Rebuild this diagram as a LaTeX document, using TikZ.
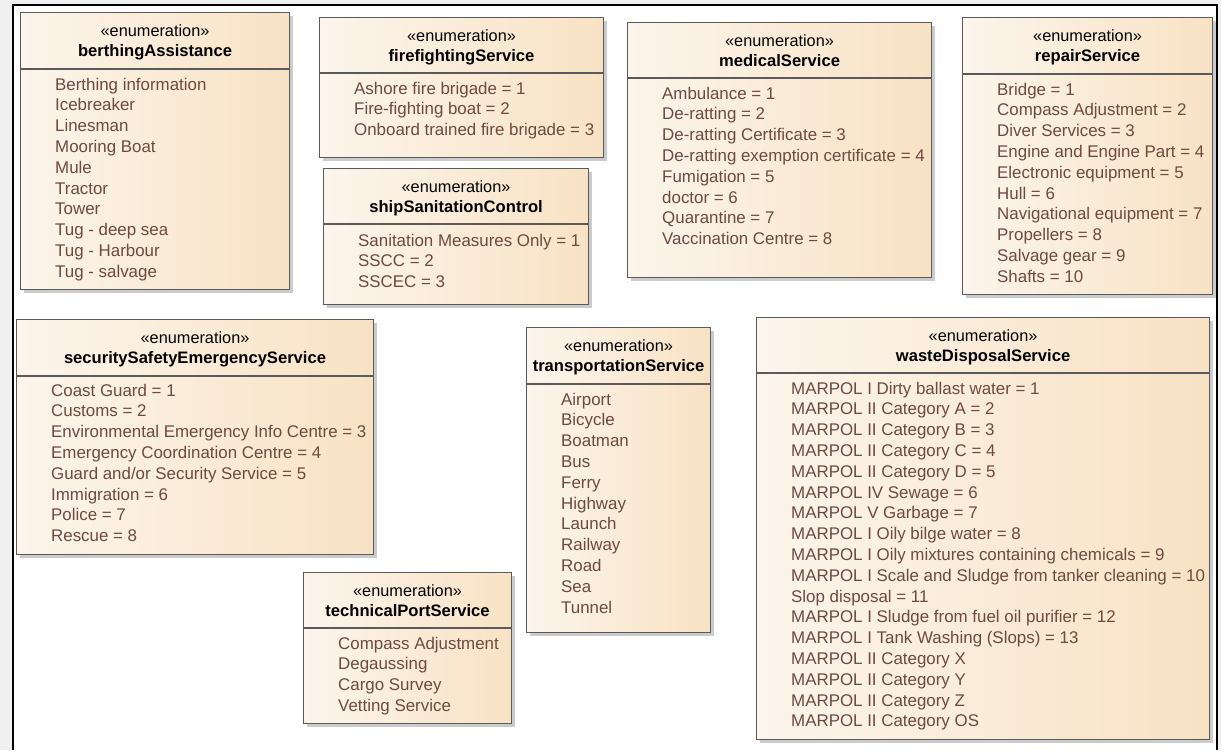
\documentclass[tikz,border=0pt]{standalone}
\usepackage{fontspec}
\setmainfont{Liberation Sans}
\usepackage{xcolor}
\usepackage{tikz}
\usetikzlibrary{positioning,shadows}

\definecolor{enumL}{HTML}{FCF5EC}
\definecolor{enumR}{HTML}{F8E2C4}
\definecolor{boxline}{HTML}{5A5A5A}
\definecolor{littext}{HTML}{6E4A40}
\definecolor{pagebg}{HTML}{F0F0F0}

\begin{document}
\begin{tikzpicture}[x=1pt,y=1pt]
        \def\hori{35}
        \def\rowh{20.8}
        \tikzstyle{enum}=[draw=boxline, line width=1.1pt, left color=enumL, right color=enumR, anchor=north west, inner sep=0pt,
            drop shadow={shadow xshift=3pt, shadow yshift=-3pt, fill=black!40, opacity=0.5}]
        \tikzstyle{stereo}=[font=\fontsize{16.3}{19}\selectfont, inner sep=0pt, anchor=base]
        \tikzstyle{title}=[font=\fontsize{16.6}{19}\selectfont\bfseries, inner sep=0pt, anchor=base]
        \tikzstyle{lit}=[font=\fontsize{16.9}{19}\selectfont, text=littext, inner sep=0pt, anchor=base west]
        \tikzstyle{divider}=[draw=boxline, line width=1.1pt]

        % Page
        \useasboundingbox (0,0) rectangle (1221,-750);
        \fill[pagebg] (0,0) rectangle (1221,-750);
        \fill[white] (13,-5) rectangle (1217,-750);
        \draw[line width=2pt] (13,-750) -- (13,-5) -- (1217,-5) -- (1217,-750);

        % berthingAssistance
        \node[enum, minimum width=269, minimum height=277] (berth) at (20,-12) {};
        \node[stereo] (berth-s) at ([yshift=-24]berth.north) {«enumeration»};
        \node[title] (berth-t) at ([yshift=-44]berth.north) {berthingAssistance};
        \draw[divider] ([yshift=-57]berth.north west) -- ([yshift=-57]berth.north east);
        \foreach \t [count=\i] in {Berthing information, Icebreaker, Linesman, Mooring Boat, Mule, Tractor, Tower, Tug - deep sea, Tug - Harbour, Tug - salvage}
            \node[lit] (berth-\i) at ([shift={(\hori,-78-\rowh*\i+\rowh)}]berth.north west) {\t};

        % firefightingService
        \node[enum, minimum width=284, minimum height=140] (fire) at (319,-17) {};
        \node[stereo] (fire-s) at ([yshift=-24]fire.north) {«enumeration»};
        \node[title] (fire-t) at ([yshift=-44]fire.north) {firefightingService};
        \draw[divider] ([yshift=-56]fire.north west) -- ([yshift=-56]fire.north east);
        \foreach \t [count=\i] in {Ashore fire brigade = 1, Fire-fighting boat = 2, Onboard trained fire brigade = 3}
            \node[lit] (fire-\i) at ([shift={(\hori,-77-\rowh*\i+\rowh)}]fire.north west) {\t};

        % shipSanitationControl
        \node[enum, minimum width=265, minimum height=136] (sanit) at (323,-168) {};
        \node[stereo] (sanit-s) at ([yshift=-24]sanit.north) {«enumeration»};
        \node[title] (sanit-t) at ([yshift=-44]sanit.north) {shipSanitationControl};
        \draw[divider] ([yshift=-56]sanit.north west) -- ([yshift=-56]sanit.north east);
        \foreach \t [count=\i] in {Sanitation Measures Only = 1, SSCC = 2, SSCEC = 3}
            \node[lit] (sanit-\i) at ([shift={(\hori,-78-\rowh*\i+\rowh)}]sanit.north west) {\t};

        % medicalService
        \node[enum, minimum width=304, minimum height=255] (medic) at (627,-22) {};
        \node[stereo] (medic-s) at ([yshift=-24]medic.north) {«enumeration»};
        \node[title] (medic-t) at ([yshift=-44]medic.north) {medicalService};
        \draw[divider] ([yshift=-56]medic.north west) -- ([yshift=-56]medic.north east);
        \foreach \t [count=\i] in {Ambulance = 1, De-ratting = 2, De-ratting Certificate = 3, De-ratting exemption certificate = 4, Fumigation = 5, doctor = 6, Quarantine = 7, Vaccination Centre = 8}
            \node[lit] (medic-\i) at ([shift={(\hori,-77-\rowh*\i+\rowh)}]medic.north west) {\t};

        % repairService
        \node[enum, minimum width=250, minimum height=277] (repair) at (962,-17) {};
        \node[stereo] (repair-s) at ([yshift=-24]repair.north) {«enumeration»};
        \node[title] (repair-t) at ([yshift=-44]repair.north) {repairService};
        \draw[divider] ([yshift=-57]repair.north west) -- ([yshift=-57]repair.north east);
        \foreach \t [count=\i] in {Bridge = 1, Compass Adjustment = 2, Diver Services = 3, Engine and Engine Part = 4, Electronic equipment = 5, Hull = 6, Navigational equipment = 7, Propellers = 8, Salvage gear = 9, Shafts = 10}
            \node[lit] (repair-\i) at ([shift={(\hori,-78-\rowh*\i+\rowh)}]repair.north west) {\t};

        % securitySafetyEmergencyService
        \node[enum, minimum width=357, minimum height=235] (secur) at (16,-319) {};
        \node[stereo] (secur-s) at ([yshift=-24]secur.north) {«enumeration»};
        \node[title] (secur-t) at ([yshift=-44]secur.north) {securitySafetyEmergencyService};
        \draw[divider] ([yshift=-57]secur.north west) -- ([yshift=-57]secur.north east);
        \foreach \t [count=\i] in {Coast Guard = 1, Customs = 2, Environmental Emergency Info Centre = 3, Emergency Coordination Centre = 4, Guard and/or Security Service = 5, Immigration = 6, Police = 7, Rescue = 8}
            \node[lit] (secur-\i) at ([shift={(\hori,-77-\rowh*\i+\rowh)}]secur.north west) {\t};

        % transportationService
        \node[enum, minimum width=184, minimum height=305] (transp) at (526,-327) {};
        \node[stereo] (transp-s) at ([yshift=-24]transp.north) {«enumeration»};
        \node[title] (transp-t) at ([yshift=-44]transp.north) {transportationService};
        \draw[divider] ([yshift=-57]transp.north west) -- ([yshift=-57]transp.north east);
        \foreach \t [count=\i] in {Airport, Bicycle, Boatman, Bus, Ferry, Highway, Launch, Railway, Road, Sea, Tunnel}
            \node[lit] (transp-\i) at ([shift={(\hori,-78-\rowh*\i+\rowh)}]transp.north west) {\t};

        % technicalPortService
        \node[enum, minimum width=208, minimum height=151] (techn) at (303,-572) {};
        \node[stereo] (techn-s) at ([yshift=-24]techn.north) {«enumeration»};
        \node[title] (techn-t) at ([yshift=-44]techn.north) {technicalPortService};
        \draw[divider] ([yshift=-56]techn.north west) -- ([yshift=-56]techn.north east);
        \foreach \t [count=\i] in {Compass Adjustment, Degaussing, Cargo Survey, Vetting Service}
            \node[lit] (techn-\i) at ([shift={(\hori,-77-\rowh*\i+\rowh)}]techn.north west) {\t};

        % wasteDisposalService
        \node[enum, minimum width=453, minimum height=422] (waste) at (756,-317) {};
        \node[stereo] (waste-s) at ([yshift=-24]waste.north) {«enumeration»};
        \node[title] (waste-t) at ([yshift=-44]waste.north) {wasteDisposalService};
        \draw[divider] ([yshift=-56]waste.north west) -- ([yshift=-56]waste.north east);
        \foreach \t [count=\i] in {MARPOL I Dirty ballast water = 1, MARPOL II Category A = 2, MARPOL II Category B = 3, MARPOL II Category C = 4, MARPOL II Category D = 5, MARPOL IV Sewage = 6, MARPOL V Garbage = 7, MARPOL I Oily bilge water = 8, MARPOL I Oily mixtures containing chemicals = 9, MARPOL I Scale and Sludge from tanker cleaning = 10, Slop disposal = 11, MARPOL I Sludge from fuel oil purifier = 12, MARPOL I Tank Washing (Slops) = 13, MARPOL II Category X, MARPOL II Category Y, MARPOL II Category Z, MARPOL II Category OS}
            \node[lit] (waste-\i) at ([shift={(\hori,-77-\rowh*\i+\rowh)}]waste.north west) {\t};

    \end{tikzpicture}
\end{document}
